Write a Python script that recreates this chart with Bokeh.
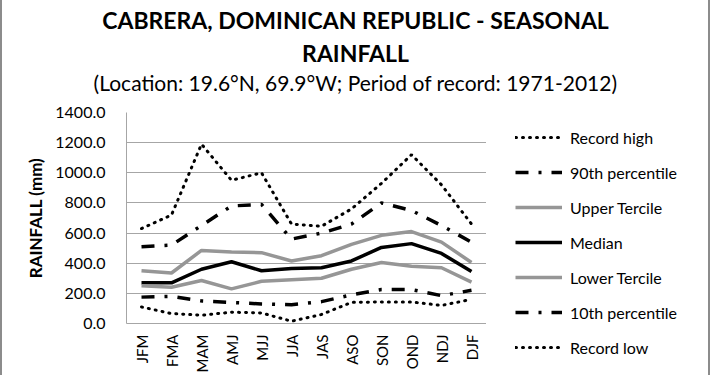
from bokeh.plotting import figure
from bokeh.layouts import column, row
from bokeh.models import Label, Legend, LegendItem, Range1d, FactorRange, FixedTicker, NumeralTickFormatter
from bokeh.embed import file_html
from bokeh.resources import INLINE

seasons = ["JFM", "FMA", "MAM", "AMJ", "MJJ", "JJA", "JAS", "ASO", "SON", "OND", "NDJ", "DJF"]
record_high = [630, 720, 1190, 950, 1000, 660, 645, 760, 930, 1120, 920, 660]
pct90 = [510, 520, 650, 780, 790, 560, 600, 660, 800, 750, 650, 540]
upper_tercile = [350, 335, 485, 475, 470, 415, 450, 525, 585, 610, 540, 405]
median = [270, 270, 360, 410, 350, 365, 370, 415, 505, 530, 465, 345]
lower_tercile = [250, 240, 285, 230, 280, 290, 300, 360, 405, 380, 370, 275]
pct10 = [175, 180, 150, 140, 130, 125, 145, 190, 225, 225, 185, 220]
record_low = [110, 66, 55, 75, 70, 15, 60, 140, 143, 143, 120, 160]
y_ticks = [0, 200, 400, 600, 800, 1000, 1200, 1400]
title_lines = ["CABRERA, DOMINICAN REPUBLIC - SEASONAL", "RAINFALL"]
subtitle = "(Location: 19.6°N, 69.9°W; Period of record: 1971-2012)"

FONT = "Lato"

# ---- title strip ----
pt = figure(width=706, height=100, x_range=Range1d(0, 1), y_range=Range1d(0, 1),
            x_axis_type=None, y_axis_type=None, output_backend="svg", toolbar_location=None,
            min_border=0)
pt.frame_align = False
pt.outline_line_color = None
pt.grid.grid_line_color = None
for txt, ys in zip(title_lines, [81, 48]):
    pt.add_layout(Label(x=353, y=ys, x_units="screen", y_units="screen", text=txt,
                        text_align="center", text_baseline="alphabetic", text_font=FONT,
                        text_font_size="23px", text_font_style="bold", text_color="#000000"))
pt.add_layout(Label(x=353, y=18, x_units="screen", y_units="screen", text=subtitle,
                    text_align="center", text_baseline="alphabetic", text_font=FONT,
                    text_font_size="21px", text_color="#000000"))

# ---- main chart ----
p = figure(width=484, height=275, x_range=seasons, y_range=Range1d(0, 1400),
           output_backend="svg", toolbar_location=None,
           min_border_left=124, min_border_right=0, min_border_top=12, min_border_bottom=50)
p.outline_line_color = None
p.xgrid.grid_line_color = None
p.ygrid.grid_line_color = "#a6a6a6"
p.ygrid.grid_line_width = 1
p.yaxis.ticker = FixedTicker(ticks=y_ticks)
p.yaxis.formatter = NumeralTickFormatter(format="0.0")
p.yaxis.axis_line_color = "#a6a6a6"
p.xaxis.axis_line_color = "#a6a6a6"
for ax in (p.xaxis, p.yaxis):
    ax.major_tick_line_color = None
    ax.minor_tick_line_color = None
    ax.major_label_text_font = FONT
    ax.major_label_text_color = "#000000"
p.yaxis.major_label_text_font_size = "16px"
p.yaxis.major_label_standoff = 15
p.xaxis.major_label_text_font_size = "15px"
p.xaxis.major_label_orientation = 1.5708
p.yaxis.axis_label = "RAINFALL (mm)"
p.yaxis.axis_label_text_font = FONT
p.yaxis.axis_label_text_font_size = "17px"
p.yaxis.axis_label_text_font_style = "bold"
p.yaxis.axis_label_text_color = "#000000"
p.yaxis.axis_label_standoff = 6

series = [
    ("Record high", record_high, "black", 3, "1 6", "round"),
    ("90th percentile", pct90, "black", 3.5, "13 10 3 10", "butt"),
    ("Upper Tercile", upper_tercile, "#969696", 3.5, "solid", "butt"),
    ("Median", median, "black", 3.5, "solid", "butt"),
    ("Lower Tercile", lower_tercile, "#969696", 3.5, "solid", "butt"),
    ("10th percentile", pct10, "black", 3.5, "13 10 3 10", "butt"),
    ("Record low", record_low, "black", 3, "1 6", "round"),
]

# ---- legend strip (its lines hold the same series, kept out of view) ----
pl = figure(width=222, height=275, x_range=FactorRange(*seasons), y_range=Range1d(5000, 6000),
            x_axis_type=None, y_axis_type=None, output_backend="svg", toolbar_location=None,
            min_border=0)
pl.frame_align = False
pl.outline_line_color = None
pl.grid.grid_line_color = None

items = []
for name, vals, color, w, dash, cap in series:
    p.line(seasons, vals, line_color=color, line_width=w, line_dash=dash, line_cap=cap)
    r = pl.line(seasons, vals, line_color=color, line_width=w, line_dash=dash, line_cap=cap)
    items.append(LegendItem(label=name, renderers=[r]))

legend = Legend(items=items, location=(29, 18), label_text_font=FONT,
                label_text_font_size="16px", label_text_color="#000000",
                glyph_width=47, glyph_height=20,
                label_height=20, spacing=15, label_standoff=8, padding=0, margin=0,
                border_line_color=None, background_fill_alpha=0)
pl.add_layout(legend, "center")

layout = column(pt, row(p, pl, spacing=0), spacing=0)
layout.styles = {"border-left": "2px solid #8c8c8c", "border-right": "2px solid #8c8c8c"}

open("out.html", "w").write(file_html(layout, INLINE))
